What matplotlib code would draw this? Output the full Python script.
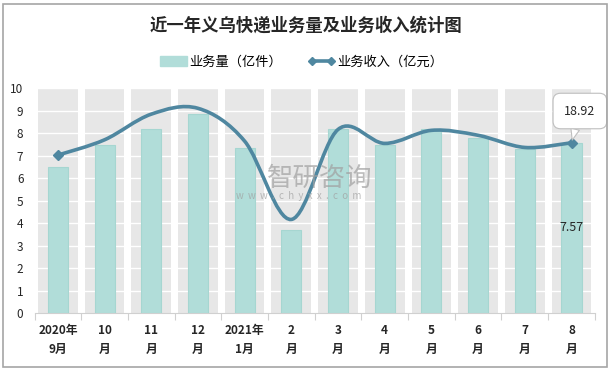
import matplotlib
matplotlib.use('Agg')
import matplotlib.pyplot as plt
import numpy as np
from matplotlib.path import Path
from matplotlib.patches import PathPatch, Patch, Rectangle
from matplotlib.lines import Line2D

plt.rcParams['font.family'] = ['Noto Sans CJK SC', 'DejaVu Sans']

# *** Data ***
months = ['2020年\n9月', '10\n月', '11\n月', '12\n月', '2021年\n1月', '2\n月',
          '3\n月', '4\n月', '5\n月', '6\n月', '7\n月', '8\n月']
volume = [6.5, 7.45, 8.2, 8.83, 7.35, 3.7, 8.2, 7.45, 8.2, 7.8, 7.3, 7.57]       # 亿件
revenue = [17.55, 19.25, 22.1, 22.75, 19.1, 10.4, 20.4, 18.85, 20.3, 19.75, 18.4, 18.92]  # 亿元

TEAL = '#B1DDD9'
GREY = '#E7E7E7'
LINE = '#4F87A0'


# Excel style smoothed line: cubic bezier through every point
def smoothPath(xs, ys):
    pts = np.column_stack([xs, ys])
    verts = [pts[0]]
    codes = [Path.MOVETO]
    n = len(pts)
    for i in range(n - 1):
        p0 = pts[i - 1] if i > 0 else pts[i]
        p1 = pts[i]
        p2 = pts[i + 1]
        p3 = pts[i + 2] if i + 2 < n else pts[i + 1]
        verts += [p1 + (p2 - p0) / 6, p2 - (p3 - p1) / 6, p2]
        codes += [Path.CURVE4] * 3
    return Path(verts, codes)


fig = plt.figure(figsize=(6.12, 3.70), dpi=100)
fig.patches.append(Rectangle((0.005, 0.008), 0.987, 0.982, transform=fig.transFigure,
                             fill=False, ec='#A6A6A6', lw=1.2))

ax = fig.add_axes([0.0564, 0.154, 0.9156, 0.608])
x = np.arange(len(months))

# grey full-height background columns, white grid, teal bars
ax.bar(x, [10] * len(x), width=0.85, color=GREY, zorder=1)
for v in range(1, 11):
    ax.axhline(v, color='white', lw=1, zorder=2)
ax.bar(x, volume, width=0.43, color=TEAL, ec='#A6D6D1', lw=0.8, zorder=3)
ax.text(x[-1], volume[-1] / 2, '%.2f' % volume[-1], ha='center', va='center',
        fontsize=9, color='#262626', zorder=6)

ax.set_xlim(-0.5, len(x) - 0.5)
ax.set_ylim(0, 10)
ax.set_yticks(range(0, 11))
ax.tick_params(axis='y', length=0, labelsize=8.5, labelcolor='#262626', pad=8)
ax.set_xticks(np.arange(-0.5, len(x)), [''] * (len(x) + 1))
ax.tick_params(axis='x', which='major', length=5, color='#D0D0D0', direction='out')
ax.set_xticks(x, months, minor=True)
ax.tick_params(axis='x', which='minor', length=0, pad=8, labelsize=8.5, labelcolor='#262626')
for lab in ax.get_xticklabels(minor=True):
    lab.set_fontweight('bold')
    lab.set_linespacing(1.6)
for s in ['top', 'right', 'left']:
    ax.spines[s].set_visible(False)
ax.spines['bottom'].set_color('#D0D0D0')

# revenue on a hidden secondary axis
ax2 = ax.twinx()
ax2.set_ylim(0, 25)
ax2.axis('off')
ax2.add_patch(PathPatch(smoothPath(x, revenue), fill=False, ec=LINE, lw=2.6,
                        capstyle='round', zorder=4))
ax2.plot(x[[0, -1]], [revenue[0], revenue[-1]], 'D', color=LINE, ms=5, zorder=5)
ax2.annotate('%.2f' % revenue[-1], xy=(x[-1], revenue[-1]), xytext=(x[-1] + 0.18, 22.45),
             ha='center', va='center', fontsize=9, color='#262626', zorder=7,
             bbox=dict(boxstyle='round,pad=0.9,rounding_size=0.6', fc='white', ec='#BFBFBF', lw=0.8),
             arrowprops=dict(arrowstyle='wedge,tail_width=0.7', fc='white', ec='#BFBFBF', lw=0.8,
                             shrinkA=0, shrinkB=2))

# watermark
fig.text(0.437, 0.518, '智研咨询', fontsize=19, color='#A0A0A0', alpha=0.7, ha='left', va='center')
fig.text(0.386, 0.469, 'w  w  w  .  c  h  y  x  x  .  c  o  m', fontsize=7, color='#A0A0A0',
         alpha=0.7, ha='left', va='center')

fig.text(0.5, 0.93, '近一年义乌快递业务量及业务收入统计图', ha='center', va='center',
         fontsize=12.5, fontweight='bold', color='#262626')

handles = [Patch(fc=TEAL, ec=TEAL),
           Line2D([], [], color=LINE, lw=2.6, marker='D', ms=4)]
fig.legend(handles, ['业务量（亿件）', '业务收入（亿元）'], loc='center', bbox_to_anchor=(0.493, 0.832),
           ncol=2, frameon=False, fontsize=9.5, handlelength=2.0, columnspacing=2.0, numpoints=2,
           handletextpad=0.2)

fig.savefig('out.png', dpi=100)
